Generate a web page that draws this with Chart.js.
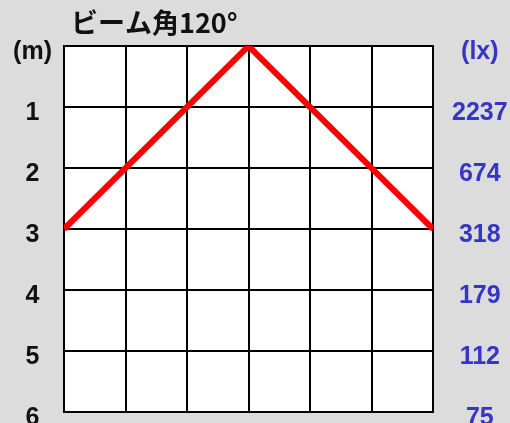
<!DOCTYPE html>
<html>
<head>
<meta charset="utf-8">
<script src="https://cdn.jsdelivr.net/npm/chart.js@4/dist/chart.umd.min.js"></script>
<style>
  html, body { margin: 0; padding: 0; background: #dcdcdc; }
  canvas { display: block; }
</style>
</head>
<body>
<canvas id="myChart" width="510" height="423"></canvas>
<script>
// Lichtkegel: Breite (x) gegen Abstand (m)
const titleText = "ビーム角120°";
const spreadX = [-3, 0, 3];
const depthM = [3, 0, 3];
const leftTicks = ["(m)", "1", "2", "3", "4", "5", "6"];
const rightTicks = ["(lx)", "2237", "674", "318", "179", "112", "75"];

const tickFont = { family: "'Liberation Sans', Arial, sans-serif", size: 25, weight: "bold" };

const bgPlugin = {
  id: "bg",
  beforeDraw(chart) {
    const c = chart.ctx;
    const a = chart.chartArea;
    c.save();
    c.fillStyle = "#dcdcdc";
    c.fillRect(0, 0, chart.width, chart.height);
    c.fillStyle = "#ffffff";
    c.fillRect(a.left, a.top, a.right - a.left, a.bottom - a.top);
    c.restore();
  },
  afterDraw(chart) {
    const c = chart.ctx;
    const a = chart.chartArea;
    c.save();
    c.fillStyle = "#111";
    c.font = "bold 27px 'Noto Sans CJK JP', sans-serif";
    c.textBaseline = "alphabetic";
    c.fillText(titleText, a.left + 7, 33);
    c.restore();
  },
};

function noPad(s, w) {
  s.width = w;
  s.paddingTop = 0;
  s.paddingBottom = 0;
}

let ctx = document.getElementById("myChart").getContext("2d");
let myChart = new Chart(ctx, {
  type: "line",
  data: {
    datasets: [
      {
        data: spreadX.map((x, i) => ({ x: x, y: depthM[i] })),
        borderColor: "#ff0000",
        borderWidth: 6,
        pointRadius: 0,
        tension: 0,
        yAxisID: "y",
      },
    ],
  },
  options: {
    responsive: false,
    animation: false,
    layout: { padding: { top: 46, bottom: 11, left: 0, right: 0 } },
    plugins: { legend: { display: false }, tooltip: { enabled: false } },
    scales: {
      x: {
        type: "linear",
        min: -3,
        max: 3,
        ticks: { display: false, stepSize: 1 },
        grid: { color: "#000", lineWidth: 2, drawTicks: false },
        border: { color: "#000", width: 2 },
        afterFit: (s) => { s.height = 0; s.paddingLeft = 0; s.paddingRight = 0; },
      },
      y: {
        type: "linear",
        position: "left",
        reverse: true,
        min: 0,
        max: 6,
        ticks: {
          stepSize: 1,
          color: "#111",
          font: tickFont,
          crossAlign: "center",
          padding: 12,
          labelOffset: 6,
          callback: (v) => leftTicks[v],
        },
        grid: { color: "#000", lineWidth: 2, drawTicks: false },
        border: { color: "#000", width: 2 },
        afterFit: (s) => noPad(s, 64),
      },
      y2: {
        type: "linear",
        position: "right",
        reverse: true,
        min: 0,
        max: 6,
        ticks: {
          stepSize: 1,
          color: "#3535c8",
          font: tickFont,
          crossAlign: "center",
          padding: 19,
          labelOffset: 6,
          callback: (v) => rightTicks[v],
        },
        grid: { drawOnChartArea: false, drawTicks: false },
        border: { color: "#000", width: 2 },
        afterFit: (s) => noPad(s, 77),
      },
    },
  },
  plugins: [bgPlugin],
});
</script>
</body>
</html>
